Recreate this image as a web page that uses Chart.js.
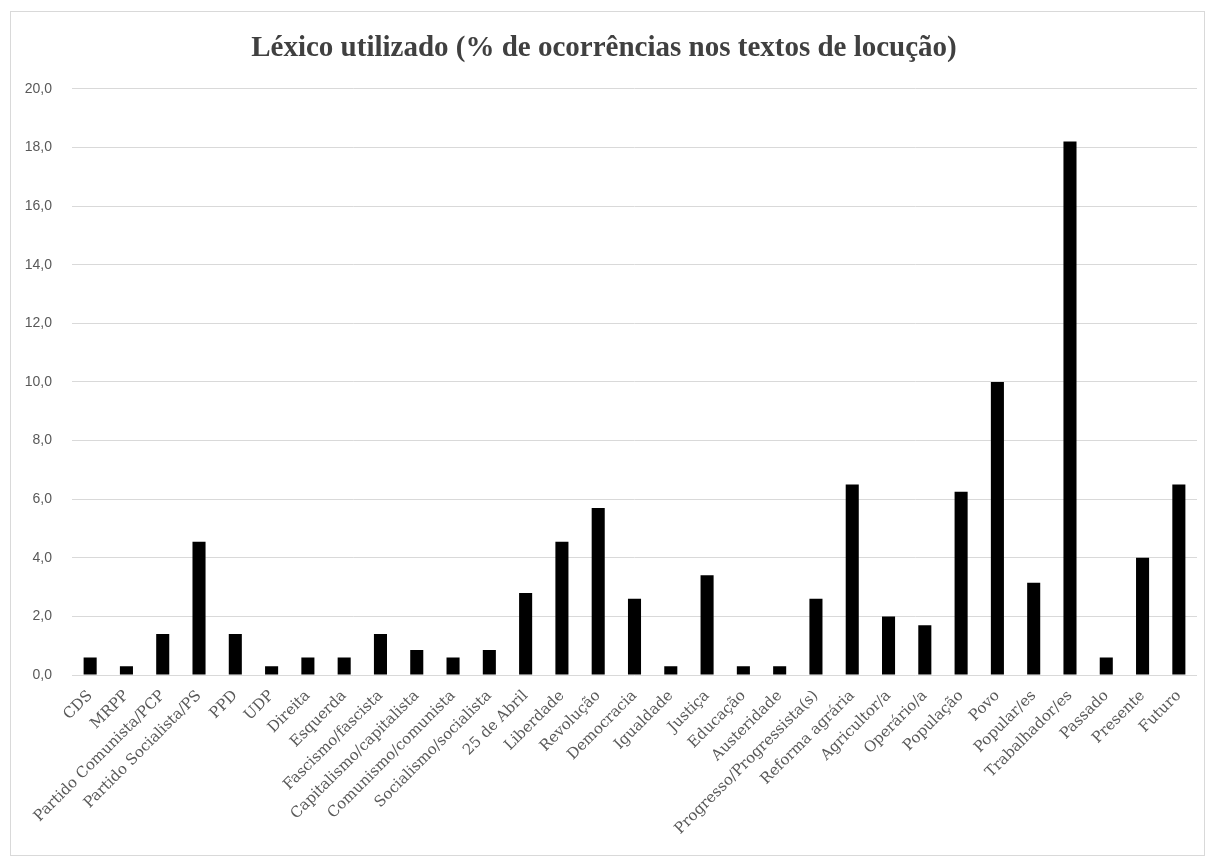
<!DOCTYPE html>
<html>
<head>
<meta charset="utf-8">
<script src="https://cdn.jsdelivr.net/npm/chart.js@4/dist/chart.umd.min.js"></script>
<style>
  body { margin: 0; background: #fff; }
  #box { position: absolute; left: 10px; top: 11px; width: 1195px; height: 845px; box-sizing: border-box; border: 1px solid #d9d9d9; }
  #lexico_chart { display: block; }
</style>
</head>
<body>
<div id="box"><canvas id="lexico_chart" width="1193" height="843"></canvas></div>
<script>
var categorias = ["CDS", "MRPP", "Partido Comunista/PCP", "Partido Socialista/PS", "PPD", "UDP", "Direita", "Esquerda",
    "Fascismo/fascista", "Capitalismo/capitalista", "Comunismo/comunista", "Socialismo/socialista", "25 de Abril",
    "Liberdade", "Revolução", "Democracia", "Igualdade", "Justiça", "Educação", "Austeridade",
    "Progresso/Progressista(s)", "Reforma agrária", "Agricultor/a", "Operário/a", "População", "Povo",
    "Popular/es", "Trabalhador/es", "Passado", "Presente", "Futuro"];
var ocorrencias = [0.6, 0.3, 1.4, 4.55, 1.4, 0.3, 0.6, 0.6,
    1.4, 0.85, 0.6, 0.85, 2.8,
    4.55, 5.7, 2.6, 0.3, 3.4, 0.3, 0.3,
    2.6, 6.5, 2.0, 1.7, 6.25, 10.0,
    3.15, 18.2, 0.6, 4.0, 6.5];
var y_min = 0, y_max = 20, y_step = 2;
var titulo = "Léxico utilizado (% de ocorrências nos textos de locução)";

var fmt_virgula = (v) => v.toFixed(1).replace(".", ",");

var canva = document.getElementById("lexico_chart");
var chart = new Chart(canva, {
    type: "bar",
    data: {
        labels: categorias,
        datasets: [{
            label: "Léxico",
            data: ocorrencias,
            backgroundColor: "#000",
            barPercentage: 0.36,
            categoryPercentage: 1
        }]
    },
    options: {
        responsive: false,
        animation: false,
        layout: { padding: { left: 0, right: 7, top: 0, bottom: 0 } },
        plugins: {
            legend: { display: false },
            tooltip: { enabled: false },
            title: {
                display: true,
                text: titulo,
                color: "#404040",
                font: { family: "'Liberation Serif', serif", size: 29, weight: "bold" },
                padding: { top: 19, bottom: 23 }
            }
        },
        scales: {
            x: {
                grid: { display: false, drawTicks: false },
                border: { display: false },
                ticks: {
                    color: "#595959",
                    font: { family: "'DejaVu Serif', serif", size: 15 },
                    minRotation: 45,
                    maxRotation: 45,
                    autoSkip: false,
                    padding: 12
                },
                afterFit: (s) => { s.height = 180; }
            },
            y: {
                min: y_min,
                max: y_max,
                grid: { color: "#d9d9d9", lineWidth: 1, drawTicks: false },
                border: { display: false },
                ticks: {
                    stepSize: y_step,
                    color: "#595959",
                    font: { family: "'Liberation Sans', Arial, sans-serif", size: 14 },
                    padding: 20,
                    callback: (v) => fmt_virgula(v)
                },
                afterFit: (s) => { s.width = 61; }
            }
        }
    }
});
</script>
</body>
</html>
